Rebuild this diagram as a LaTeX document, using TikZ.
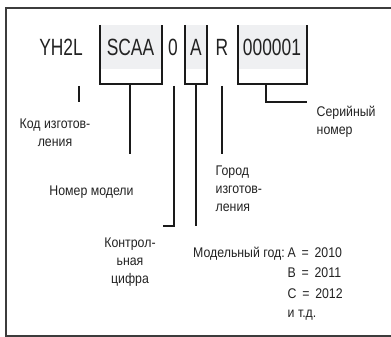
\documentclass[tikz,border=0pt]{standalone}
\usepackage{fontspec}
\setmainfont{Liberation Sans}
\newfontfamily\bigf[FakeStretch=0.74]{Liberation Sans}
\newfontfamily\smallf[FakeStretch=0.88]{Liberation Sans}
\definecolor{textc}{HTML}{222222}
\definecolor{linec}{HTML}{1A1A1A}
\definecolor{framec}{HTML}{3C3C3C}
\definecolor{boxfill}{HTML}{EFF0F2}
\begin{document}
\begin{tikzpicture}[x=1pt,y=-1pt,
  big/.style={font=\bigf\fontsize{23.5}{23.5}\selectfont, inner sep=0pt, anchor=base, text=textc},
  lab/.style={font=\smallf\fontsize{14}{18}\selectfont, inner sep=0pt, anchor=base, text=textc},
  ln/.style={line width=2pt, draw=linec},
  ]
\useasboundingbox (0,0) rectangle (391,337);
% frame
\draw[line width=2pt, draw=framec] (393,8.5) -- (5.5,8.5) -- (5.5,335.5) -- (393,335.5);
% shaded parts of boxes
\fill[boxfill] (99.5,25) rectangle (162,69);
\fill[boxfill] (184.5,25) rectangle (207,69);
\fill[boxfill] (237.5,25) rectangle (307,69);
% boxes
\draw[ln] (99.5,25) -- (99.5,84.5) -- (162,84.5) -- (162,25);
\draw[ln] (184.5,25) -- (184.5,84.5) -- (207,84.5) -- (207,25);
\draw[ln] (237.5,25) -- (237.5,84.5) -- (307,84.5) -- (307,25);
% code characters
\node[big] (yh2l) at (61,55.5) {YH2L};
\node[big] (scaa) at (130.5,55.5) {SCAA};
\node[big] (zero) at (173,55.5) {0};
\node[big] (a) at (196,55.5) {A};
\node[big] (r) at (222,55.5) {R};
\node[big] (serial) at (272,55.5) {000001};
% connector end points
\coordinate (kodT) at (78.5,86);
\coordinate (kodE) at (78.5,102);
\coordinate (scaaB) at (130,84.5);
\coordinate (scaaE) at (130,154);
\coordinate (zeroT) at (173.5,86);
\coordinate (zeroK) at (173.5,225.5);
\coordinate (zeroE) at (162.5,225.5);
\coordinate (aB) at (196,84.5);
\coordinate (aE) at (196,225.5);
\coordinate (rT) at (222,86);
\coordinate (rE) at (222,154);
\coordinate (serB) at (266,84.5);
\coordinate (serK) at (266,102);
\coordinate (serE) at (307,102);
% connectors
\draw[ln] (kodT) -- (kodE);
\draw[ln] (scaaB) -- (scaaE);
\draw[ln] (zeroT) -- (zeroK) -- (zeroE);
\draw[ln] (aB) -- (aE);
\draw[ln] (rT) -- (rE);
\draw[ln] (serB) -- (serK) -- (serE);
% labels (base anchor = last line)
\node[lab, align=center] (kod) at (55,146.5) {Код изготов-\\ления};
\node[lab] (nomer) at (91.5,195) {Номер модели};
\node[lab, align=center] (kontrol) at (130,283) {Контрол-\\ьная\\цифра};
\node[lab, align=left, anchor=base west] (gorod) at (215.5,211) {Город\\изготов-\\ления};
\node[lab, align=left, anchor=base west] (serlab) at (316.5,134) {Серийный\\номер};
\node[lab, anchor=base west] (god) at (193,257.5) {Модельный год:};
\node[lab, anchor=base west] (gA) at (287.5,257.5) {A\, =\, 2010};
\node[lab, anchor=base west] (gB) at (287.5,277.5) {B\, =\, 2011};
\node[lab, anchor=base west] (gC) at (287.5,298) {C\, =\, 2012};
\node[lab, anchor=base west] (gD) at (287.5,317) {и т.д.};
\end{tikzpicture}
\end{document}
